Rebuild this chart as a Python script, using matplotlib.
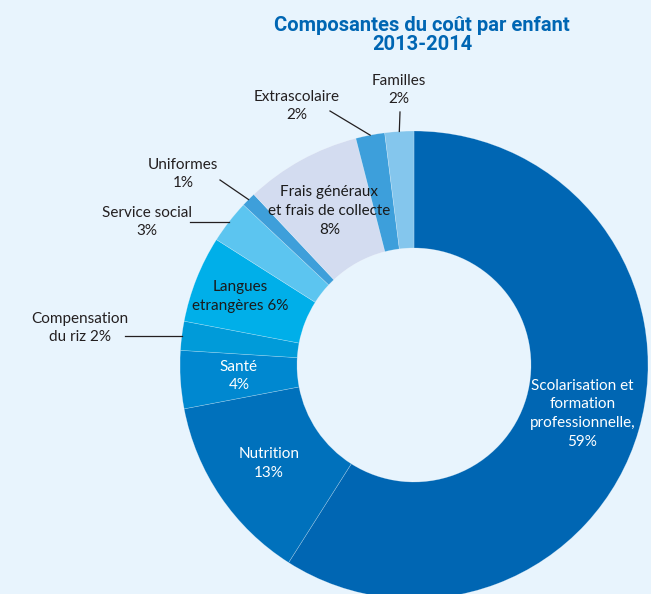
import numpy as np
import matplotlib.pyplot as plt

# données
labels = ["Scolarisation et\nformation\nprofessionnelle,\n59%", "Nutrition\n13%", "Santé\n4%",
          "Compensation\ndu riz 2%", "Langues\netrangères 6%", "Service social\n3%", "Uniformes\n1%",
          "Frais généraux\net frais de collecte\n8%", "Extrascolaire\n2%", "Familles\n2%"]
values = [59, 13, 4, 2, 6, 3, 1, 8, 2, 2]
colors = ["#0066b3", "#0071bc", "#0088d0", "#009bd9", "#00afe9", "#5cc5f0", "#3e9fda",
          "#d3dcf0", "#3d9fdb", "#84c6ed"]

bg = "#e8f4fd"
fig = plt.figure(figsize=(6.51, 5.94), dpi=100, facecolor=bg)
ax = fig.add_axes([180 / 651, -5 / 594, 468 / 651, 468 / 594])
ax.set_facecolor(bg)

wedges, _ = ax.pie(values, colors=colors, startangle=90, counterclock=False, radius=1,
                   wedgeprops=dict(width=0.5, edgecolor=(1, 1, 1, 0.35), linewidth=0.4))
ax.set_xlim(-1, 1)
ax.set_ylim(-1, 1)
ax.set_aspect("equal")
ax.axis("off")

font = "Lato"
fs = 11
ls = 1.45
cum = np.cumsum(values)
mids = (cum - np.array(values) / 2) / 100 * 360  # degrés depuis le haut, sens horaire

# étiquettes à l'intérieur
inside = {0: ("white", 0.75), 1: ("white", 0.75), 2: ("white", 0.75),
          4: ("#1a1a1a", 0.8), 7: ("#1a1a1a", 0.75)}
for i, (c, r) in inside.items():
    th = np.radians(mids[i])
    ax.text(r * np.sin(th), r * np.cos(th), labels[i], ha="center", va="center",
            color=c, fontsize=fs, family=font, linespacing=ls)

# étiquettes à l'extérieur (position du texte, fin du trait) en pixels
outside = {3: ((80, 328), (125, 338)), 5: ((147, 222), (190, 222)), 6: ((183, 174), (220, 180)),
           8: ((297, 106), (330, 111)), 9: ((399, 90), (400, 112))}
def px(p):
    return ((p[0] - 414) / 234, (365 - p[1]) / 234)
for i, (tp, lp) in outside.items():
    th = np.radians(mids[i])
    x0, y0 = np.sin(th), np.cos(th)
    x1, y1 = px(lp)
    if i in (3, 5):
        y1 = y0
    ax.plot([x0, x1], [y0, y1], color="#231f20", lw=0.9, clip_on=False)
    tx, ty = px(tp)
    ax.text(tx, ty, labels[i], ha="center", va="center", color="#231f20",
            fontsize=fs, family=font, linespacing=ls)

fig.text(422 / 651, 1 - 35 / 594, "Composantes du coût par enfant\n2013-2014", ha="center",
         va="center", color="#0066b3", fontsize=14.5, fontweight="bold", family="Roboto",
         linespacing=0.95)

fig.savefig("out.png", dpi=100, facecolor=bg)
